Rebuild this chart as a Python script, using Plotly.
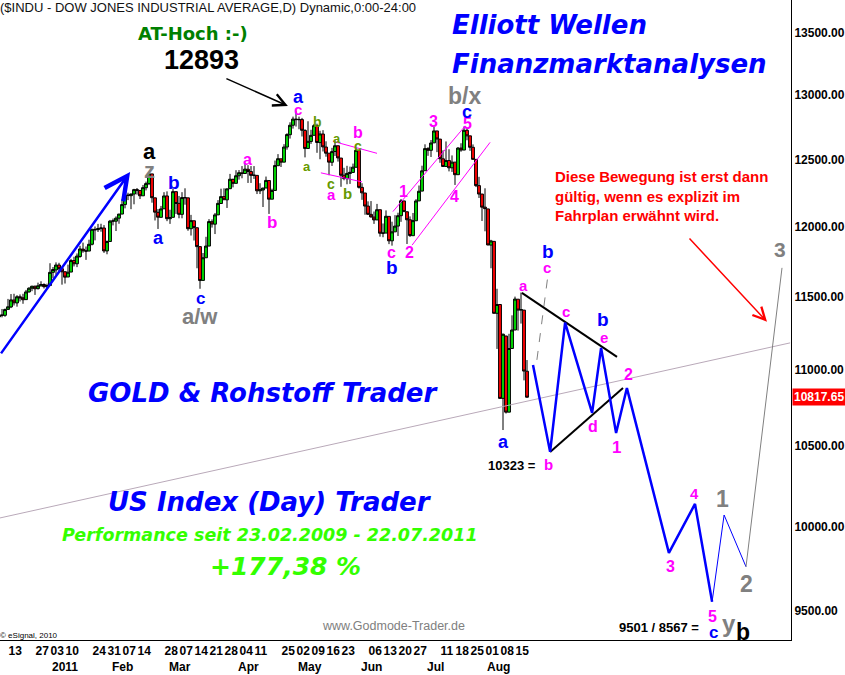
import numpy as np
import pandas as pd
import plotly.graph_objects as go

# ---------------- data ----------------
holidays = ["2010-12-24", "2011-01-17", "2011-02-21", "2011-04-22", "2011-05-30", "2011-07-04"]
dates = pd.bdate_range("2010-12-08", "2011-08-19", freq="C", holidays=holidays)

opens = [
    11359, 11372, 11370, 11411, 11428, 11476, 11456, 11499, 11492, 11479, 11533, 11559, 11573, 11556, 11575, 11585, 11569,
    11578, 11671, 11688, 11723, 11697, 11675, 11638, 11673, 11755, 11732, 11784, 11837, 11824, 11823, 11872, 11980, 11978, 11986, 11990, 11824,
    11892, 12040, 12040, 12062, 12092, 12162, 12233, 12228, 12240, 12273, 12267, 12227, 12287, 12318, 12391, 12212, 12105, 12068, 12131,
    12226, 12058, 12068, 12258, 12171, 12090, 12213, 12212, 11985, 12043, 11992, 11855, 11614, 11775, 11859, 12036, 12018, 12086, 12170, 12221, 12197, 12280, 12350,
    12320, 12377, 12399, 12394, 12426, 12409, 12380, 12380, 12264, 12270, 12285, 12341, 12202, 12267, 12453, 12505, 12480, 12595, 12690, 12763,
    12811, 12806, 12807, 12723, 12584, 12638, 12685, 12760, 12629, 12695, 12595, 12548, 12479, 12561, 12605, 12511, 12381, 12355, 12394, 12402, 12441,
    12569, 12290, 12248, 12151, 12090, 12070, 12049, 12124, 11952, 11953, 12075, 11897, 11962, 12004, 12080, 12189, 12109, 12050, 11934, 12043, 12189, 12262,
    12415, 12583, 12570, 12627, 12719, 12656, 12505, 12447, 12492, 12437, 12480, 12385, 12587, 12572, 12724, 12681, 12593, 12501, 12303, 12240,
    12143, 12130, 11866, 11893, 11384, 11445, 10810, 11228, 10720, 11143, 11269, 11482, 11406, 11406, 10990,
]
highs = [
    11390, 11414, 11417, 11484, 11518, 11520, 11510, 11515, 11520, 11547, 11566, 11576, 11577, 11598, 11608, 11593, 11591,
    11736, 11709, 11742, 11739, 11711, 11680, 11726, 11767, 11782, 11806, 11861, 11884, 11856, 11905, 11983, 12001, 12020, 12021, 12011, 11899,
    12049, 12059, 12075, 12093, 12201, 12240, 12250, 12244, 12279, 12285, 12268, 12308, 12333, 12391, 12391, 12212, 12129, 12152, 12254,
    12260, 12124, 12283, 12259, 12226, 12254, 12283, 12212, 12086, 12043, 11992, 11855, 11809, 11926, 12055, 12053, 12100, 12195, 12280, 12283, 12279, 12391, 12355,
    12419, 12420, 12450, 12473, 12457, 12450, 12450, 12380, 12321, 12285, 12371, 12341, 12280, 12492, 12541, 12505, 12617, 12701, 12786, 12830,
    12876, 12830, 12820, 12732, 12794, 12728, 12773, 12775, 12720, 12725, 12639, 12548, 12589, 12647, 12605, 12511, 12437, 12452, 12446, 12469, 12593,
    12569, 12321, 12248, 12186, 12188, 12111, 12167, 12124, 12023, 12119, 12075, 12036, 12084, 12102, 12203, 12189, 12109, 12075, 12100, 12202, 12304, 12453,
    12616, 12594, 12649, 12753, 12719, 12656, 12570, 12638, 12578, 12531, 12480, 12595, 12624, 12752, 12741, 12681, 12615, 12501, 12369, 12240,
    12283, 12130, 11904, 11893, 11555, 11445, 11244, 11228, 11243, 11370, 11500, 11482, 11529, 11406, 11065,
]
lows = [
    11327, 11356, 11360, 11410, 11420, 11438, 11430, 11466, 11450, 11478, 11528, 11538, 11512, 11550, 11573, 11557, 11554,
    11578, 11630, 11654, 11673, 11584, 11592, 11638, 11673, 11713, 11708, 11775, 11811, 11760, 11823, 11864, 11900, 11961, 11963, 11810, 11800,
    11892, 12009, 11968, 12021, 12092, 12134, 12195, 12128, 12164, 12236, 12203, 12227, 12267, 12307, 12176, 12045, 11983, 12068, 12131,
    12040, 12020, 12068, 12093, 12061, 12061, 12161, 11970, 11935, 11899, 11700, 11555, 11614, 11775, 11859, 11993, 11946, 12086, 12170, 12197, 12137, 12280, 12290,
    12320, 12348, 12358, 12394, 12323, 12323, 12353, 12240, 12240, 12144, 12285, 12093, 12202, 12267, 12453, 12443, 12480, 12575, 12660, 12737,
    12753, 12732, 12676, 12516, 12584, 12619, 12685, 12551, 12502, 12561, 12521, 12381, 12451, 12527, 12484, 12294, 12343, 12313, 12316, 12398, 12441,
    12281, 12197, 12087, 12087, 12066, 12020, 12049, 11927, 11923, 11953, 11873, 11862, 11962, 11932, 12035, 12109, 11874, 11925, 11934, 12043, 12189, 12262,
    12415, 12528, 12519, 12627, 12556, 12475, 12444, 12447, 12410, 12406, 12308, 12385, 12559, 12572, 12647, 12566, 12501, 12292, 12211, 12041,
    11966, 11865, 11700, 11382, 11140, 10809, 10604, 10711, 10720, 11143, 11269, 11265, 11313, 10929, 10815,
]
closes = [
    11372, 11370, 11410, 11429, 11477, 11457, 11499, 11492, 11478, 11533, 11559, 11573, 11555, 11576, 11585, 11570, 11578,
    11671, 11691, 11723, 11697, 11675, 11637, 11672, 11755, 11732, 11787, 11838, 11825, 11823, 11872, 11981, 11977, 11985, 11990, 11824, 11892,
    12040, 12042, 12062, 12092, 12162, 12233, 12229, 12240, 12273, 12268, 12227, 12288, 12318, 12391, 12213, 12106, 12069, 12130, 12226,
    12058, 12067, 12258, 12170, 12090, 12214, 12213, 11985, 12044, 11993, 11855, 11613, 11775, 11859, 12037, 12019, 12086, 12171, 12221, 12198, 12279, 12351, 12320,
    12377, 12400, 12394, 12427, 12409, 12380, 12381, 12264, 12271, 12285, 12342, 12202, 12267, 12454, 12506, 12480, 12595, 12691, 12763, 12811,
    12807, 12808, 12724, 12584, 12639, 12685, 12760, 12630, 12696, 12596, 12548, 12480, 12560, 12605, 12512, 12381, 12356, 12395, 12403, 12442, 12570,
    12290, 12249, 12151, 12090, 12071, 12049, 12124, 11952, 11953, 12076, 11897, 11962, 12004, 12080, 12190, 12110, 12050, 11935, 12044, 12189, 12261, 12414,
    12583, 12570, 12626, 12719, 12657, 12506, 12447, 12492, 12437, 12480, 12385, 12587, 12572, 12724, 12681, 12593, 12501, 12303, 12240, 12143,
    12132, 11867, 11896, 11384, 11445, 10810, 11240, 10720, 11143, 11269, 11483, 11406, 11410, 10991, 10817.65,
]

# axis labels
tick_dates = ["2010-12-13", "2010-12-27", "2011-01-03", "2011-01-10", "2011-01-24", "2011-01-31",
              "2011-02-07", "2011-02-14", "2011-02-28", "2011-03-07", "2011-03-14", "2011-03-21",
              "2011-03-28", "2011-04-04", "2011-04-11", "2011-04-25", "2011-05-02", "2011-05-09",
              "2011-05-16", "2011-05-23", "2011-06-06", "2011-06-13", "2011-06-20", "2011-06-27",
              "2011-07-11", "2011-07-18", "2011-07-25", "2011-08-01", "2011-08-08", "2011-08-15"]
month_dates = ["2011-01-03", "2011-02-01", "2011-03-01", "2011-04-01", "2011-05-02", "2011-06-01", "2011-07-01", "2011-08-01"]
month_labels = ["2011", "Feb", "Mar", "Apr", "May", "Jun", "Jul", "Aug"]
price_ticks = [9500, 10000, 10500, 11000, 11500, 12000, 12500, 13000, 13500]

# projected path (trading-day index, price)
proj_main_x = [178, 183.7, 188.7, 197.7, 200.7, 205.7, 209.3, 223.3, 232, 237.7]
proj_main_y = [11032, 10464, 11319, 10715, 11147, 10585, 10878, 9841, 10138, 9553]
proj_alt_x = [237.7, 241.7, 249]
proj_alt_y = [9553, 10070, 9758]
proj_up_x = [249, 261]
proj_up_y = [9758, 11703]

# trend lines (index, price)
long_line_x = [0.33, 263.7]
long_line_y = [10052, 11181]
mag_lines = [([131.3, 155.3], [12110, 12755]),
             ([137.7, 163.7], [11866, 12631]),
             ([111.3, 126.0], [12639, 12547]),
             ([107.3, 121.0], [12399, 12331])]
tri_upper_x = [174.3, 206]
tri_upper_y = [11526, 11086]
tri_lower_x = [183.7, 208]
tri_lower_y = [10464, 10878]
c_line_x = [179.3, 183]
c_line_y = [11066, 11653]

# ---------------- figure ----------------
idx = np.arange(len(dates))
pos = {d.strftime("%Y-%m-%d"): i for i, d in enumerate(dates)}

BLUE, MAG, GRAY, OLIVE, BLACK = "#0000ff", "#ff00ff", "#808080", "#669900", "#000000"
ARIAL = "Liberation Sans, Arial, sans-serif"
VERD = "DejaVu Sans, Verdana, sans-serif"

fig = go.Figure()

fig.add_trace(go.Scatter(x=long_line_x, y=long_line_y, mode="lines",
                         line=dict(color="#b9a9b9", width=1), hoverinfo="skip"))
for mx, my in mag_lines:
    fig.add_trace(go.Scatter(x=mx, y=my, mode="lines", line=dict(color=MAG, width=1), hoverinfo="skip"))

fig.add_trace(go.Candlestick(
    x=idx, open=opens, high=highs, low=lows, close=closes,
    increasing=dict(line=dict(color="black", width=1), fillcolor="#00e000"),
    decreasing=dict(line=dict(color="black", width=1), fillcolor="#ff0000"),
    whiskerwidth=0, hoverinfo="skip"))

fig.add_trace(go.Scatter(x=c_line_x, y=c_line_y, mode="lines",
                         line=dict(color=GRAY, width=1, dash="dash"), hoverinfo="skip"))
fig.add_trace(go.Scatter(x=tri_upper_x, y=tri_upper_y, mode="lines",
                         line=dict(color="black", width=2), hoverinfo="skip"))
fig.add_trace(go.Scatter(x=tri_lower_x, y=tri_lower_y, mode="lines",
                         line=dict(color="black", width=2), hoverinfo="skip"))
fig.add_trace(go.Scatter(x=proj_main_x, y=proj_main_y, mode="lines",
                         line=dict(color=BLUE, width=2.5), hoverinfo="skip"))
fig.add_trace(go.Scatter(x=proj_alt_x, y=proj_alt_y, mode="lines",
                         line=dict(color=BLUE, width=1), hoverinfo="skip"))
fig.add_trace(go.Scatter(x=proj_up_x, y=proj_up_y, mode="lines",
                         line=dict(color=GRAY, width=1), hoverinfo="skip"))

ann = []

def lab(text, i, price, color, size, bold=True, family=ARIAL):
    ann.append(dict(x=i, y=np.log10(price), xref="x", yref="y", text=text, showarrow=False,
                    font=dict(family=family, size=size, color=color,
                              weight="bold" if bold else "normal"),
                    xanchor="center", yanchor="middle"))

wave_labels = [
    ("a", 99.7, 12985, BLUE, 18), ("c", 99.7, 12882, MAG, 15),
    ("a", 50.3, 12558, BLACK, 22), ("z", 50.3, 12420, GRAY, 22),
    ("b", 58.3, 12323, BLUE, 19), ("a", 53, 11918, BLUE, 18),
    ("c", 67, 11484, BLUE, 17), ("a/w", 67, 11359, GRAY, 22),
    ("a", 82.7, 12497, MAG, 16), ("b", 91, 12027, MAG, 17),
    ("b", 106, 12789, OLIVE, 14), ("a", 102.7, 12444, OLIVE, 13),
    ("a", 112.7, 12658, OLIVE, 13), ("b", 119.7, 12704, MAG, 16),
    ("c", 119.7, 12604, OLIVE, 14), ("c", 110.7, 12316, OLIVE, 14),
    ("a", 110.7, 12235, MAG, 15), ("b", 116, 12247, OLIVE, 15),
    ("c", 130.7, 11810, MAG, 16), ("b", 131, 11709, BLUE, 19),
    ("1", 134.7, 12256, MAG, 16), ("2", 136.7, 11810, MAG, 16),
    ("3", 144.7, 12789, MAG, 16), ("4", 151.7, 12219, MAG, 16),
    ("5", 156, 12780, MAG, 16), ("c", 156, 12867, BLUE, 18),
    ("b/x", 155.3, 12993, GRAY, 23),
    ("a", 174.7, 11575, MAG, 15), ("a", 168, 10530, BLUE, 18),
    ("b", 183, 10381, MAG, 15), ("b", 183, 11820, BLUE, 19),
    ("c", 182.7, 11702, MAG, 15), ("c", 189, 11394, MAG, 15),
    ("b", 201.3, 11338, BLUE, 19), ("e", 201.7, 11221, MAG, 15),
    ("d", 198, 10624, MAG, 16), ("1", 205.7, 10489, MAG, 17),
    ("2", 209.7, 10965, MAG, 16), ("3", 223.7, 9757, MAG, 16),
    ("4", 231.7, 10200, MAG, 15), ("5", 237.7, 9465, MAG, 16),
    ("c", 238, 9378, BLUE, 17), ("y", 243.3, 9430, GRAY, 24),
    ("b", 248, 9378, BLACK, 23), ("1", 241.3, 10170, GRAY, 23),
    ("2", 249.3, 9655, GRAY, 23), ("3", 260.3, 11831, GRAY, 21),
    ("10323 =", 171, 10375, BLACK, 13), ("9501 / 8567 =", 220, 9404, BLACK, 13),
]
for t, i, p, c, s in wave_labels:
    lab(t, i, p, c, s)

def ptext(text, x, y, color, size, family=ARIAL, bold=True, italic=False, xanchor="left", align="left"):
    ann.append(dict(x=x, y=y, xref="paper", yref="paper", text=text, showarrow=False,
                    font=dict(family=family, size=size, color=color,
                              weight="bold" if bold else "normal",
                              style="italic" if italic else "normal"),
                    xanchor=xanchor, yanchor="middle", align=align))

ptext("($INDU - DOW JONES INDUSTRIAL AVERAGE,D) Dynamic,0:00-24:00", -0.003, 0.989, "#111111", 13, bold=False)
ptext("AT-Hoch :-)", 0.2434, 0.948, "#008000", 18, family=VERD, xanchor="center")
ptext("12893", 0.2547, 0.906, "#000000", 27, xanchor="center")
ptext("Elliott Wellen", 0.569, 0.961, BLUE, 26, family=VERD, italic=True)
ptext("Finanzmarktanalysen", 0.569, 0.900, BLUE, 26, family=VERD, italic=True)
ptext("GOLD &amp; Rohstoff Trader", 0.109, 0.386, BLUE, 26, family=VERD, italic=True)
ptext("US Index (Day) Trader", 0.134, 0.2156, BLUE, 26, family=VERD, italic=True)
ptext("Performance seit 23.02.2009 - 22.07.2011", 0.076, 0.164, "#33ff00", 17.5, family=VERD, italic=True)
ptext("+177,38 %", 0.263, 0.1156, "#33ff00", 25, family=VERD, italic=True)
ptext("www.Godmode-Trader.de", 0.404, 0.0219, GRAY, 12.5, bold=False)
ptext("© eSignal, 2010", -0.003, 0.0078, "#000000", 8, bold=False)
ptext("Diese Bewegung ist erst dann<br>gültig, wenn es explizit im<br>Fahrplan erwähnt wird.",
      0.699, 0.694, "#ff0000", 15)

# arrows
def arrow(x0, p0, x1, p1, color, width, size):
    ann.append(dict(x=x1, y=np.log10(p1), ax=x0, ay=np.log10(p0), xref="x", yref="y",
                    axref="x", ayref="y", text="", showarrow=True, arrowhead=5,
                    arrowsize=size, arrowwidth=width, arrowcolor=color, standoff=0))

arrow(0.33, 11100, 43.7, 12406, BLUE, 2.5, 1.8)
arrow(75.3, 13135, 96.3, 12914, BLACK, 1.5, 1.6)
arrow(229.7, 11924, 256, 11326, "#ff0000", 1.5, 1.6)

# month labels row
for d, m in zip(month_dates, month_labels):
    ann.append(dict(x=pos[d], y=-0.042, xref="x", yref="paper", text=m, showarrow=False,
                    font=dict(family=ARIAL, size=12, color="black", weight="bold"),
                    xanchor="left", yanchor="middle"))

# last price box
ann.append(dict(x=1.0, y=np.log10(closes[-1]), xref="paper", yref="y", xshift=1,
                text=f"{closes[-1]:.2f}", showarrow=False, bgcolor="#ff0000", borderpad=1,
                font=dict(family=ARIAL, size=12, color="white", weight="bold"),
                xanchor="left", yanchor="middle"))

fig.update_layout(
    width=845, height=675,
    margin=dict(l=0, r=54, t=0, b=35, pad=0),
    paper_bgcolor="white", plot_bgcolor="white",
    showlegend=False,
    boxgap=0.05, boxgroupgap=0,
    annotations=ann,
    xaxis=dict(range=[0.333, 264], tickvals=[pos[d] for d in tick_dates],
               ticktext=[d[-2:] for d in tick_dates], tickangle=0,
               ticklabelposition="outside right", ticks="",
               tickfont=dict(family=ARIAL, size=12, color="black", weight="bold"),
               showline=True, linecolor="black", linewidth=1, showgrid=False, zeroline=False,
               rangeslider=dict(visible=False)),
    yaxis=dict(type="log", range=[np.log10(9333), np.log10(13773)], side="right",
               tickvals=price_ticks, ticktext=[f"{v:.2f}" for v in price_ticks], ticks="",
               tickfont=dict(family=ARIAL, size=12, color="black", weight="bold"),
               showline=True, linecolor="black", linewidth=1, showgrid=False, zeroline=False),
)

fig.write_html("out.html", config={"displayModeBar": False},
               post_script="document.body.style.margin='0px';")
